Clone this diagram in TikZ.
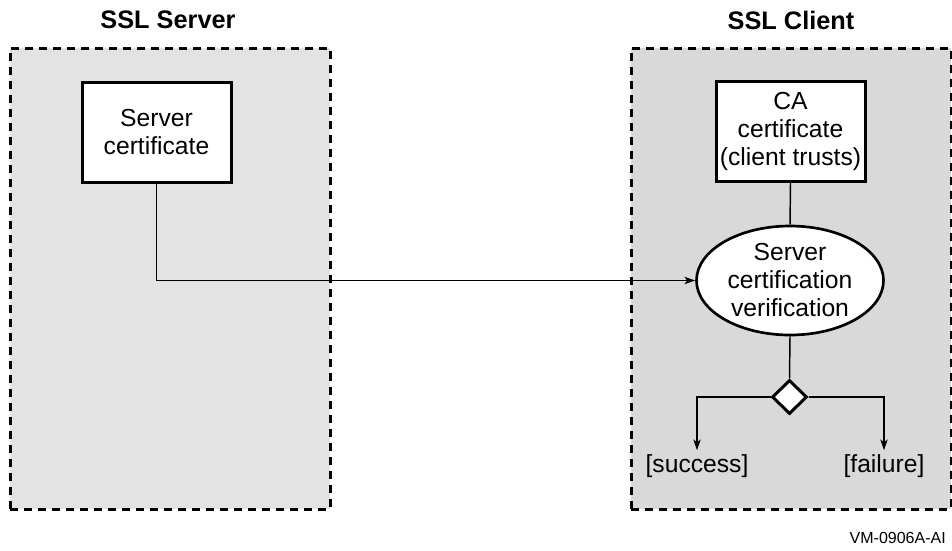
\documentclass[tikz,border=0pt]{standalone}
\usepackage{fontspec}
\setmainfont{Liberation Sans}
\usepackage{tikz}
\usetikzlibrary{arrows.meta, shapes.geometric}
\definecolor{ServerGray}{gray}{0.89}
\definecolor{ClientGray}{gray}{0.85}
\tikzset{%
  panel/.style={%
    rectangle,%
    draw=black,%
    dashed,%
    dash pattern=on 6pt off 4.5pt,%
    line width=2.25pt,%
    minimum width=240pt,%
    minimum height=345.75pt,%
    inner sep=0pt,%
  },
  panel_title/.style={%
    font={\fontsize{19}{22}\selectfont\bfseries},%
  },
  cert_block/.style={%
    rectangle,%
    draw=black,%
    fill=white,%
    line width=2.25pt,%
    minimum width=111.75pt,%
    minimum height=75pt,%
    inner sep=2pt,%
    font={\fontsize{18.5}{21}\selectfont},%
    align=center,%
  },
  verify_ellipse/.style={%
    ellipse,%
    draw=black,%
    fill=white,%
    line width=2pt,%
    minimum width=140.25pt,%
    minimum height=81.75pt,%
    inner sep=0pt,%
    font={\fontsize{18.5}{21}\selectfont},%
    align=center,%
  },
  decision/.style={%
    diamond,%
    draw=black,%
    fill=white,%
    line width=2.25pt,%
    minimum width=26.25pt,%
    minimum height=25.5pt,%
    inner sep=0pt,%
  },
  outcome/.style={%
    font={\fontsize{18.5}{21}\selectfont},%
    inner sep=3pt,%
  },
  smooth_path/.style={%
    color=black,%
    line width=1.1pt,%
    line join=miter,%
  },
  arrow/.style={-{Stealth[length=8pt, width=5.5pt, inset=2pt]}},
}
\begin{document}
\begin{tikzpicture}[x=0.75pt, y=-0.75pt]
  \useasboundingbox (0,0) rectangle (952,550);

  \node [panel, fill=ServerGray] (ServerPanel) at (170,278.5) {};
  \node [panel, fill=ClientGray] (ClientPanel) at (791,278.5) {};
  \node [panel_title] (ServerTitle) at (168,20) {SSL Server};
  \node [panel_title] (ClientTitle) at (791,20) {SSL Client};

  \node [cert_block] (ServerCert) at (156.5,132.5) {Server\\certificate};
  \node [cert_block] (CACert) at (790.5,131.5) {CA\\certificate\\(client trusts)};
  \node [verify_ellipse] (Verify) at (790,280.5) {Server\\certification\\verification};
  \node [decision] (Decision) at (789.5,397) {};
  \node [outcome] (Success) at (697,466) {[success]};
  \node [outcome] (Failure) at (884,466) {[failure]};
  \node [anchor=east, font={\fontsize{12}{14}\selectfont}, inner sep=0pt] (FigId) at (946,538) {VM-0906A-AI};

  \draw [arrow, smooth_path]
    (ServerCert.south)
    |-
    (Verify.west);
  \draw [smooth_path]
    (CACert.south)
    --
    (Verify.north);
  \draw [smooth_path]
    (Verify.south)
    --
    (Decision.north);
  \draw [arrow, smooth_path]
    (Decision.west)
    -|
    (Success.north);
  \draw [arrow, smooth_path]
    (Decision.east)
    -|
    (Failure.north);
\end{tikzpicture}
\end{document}
